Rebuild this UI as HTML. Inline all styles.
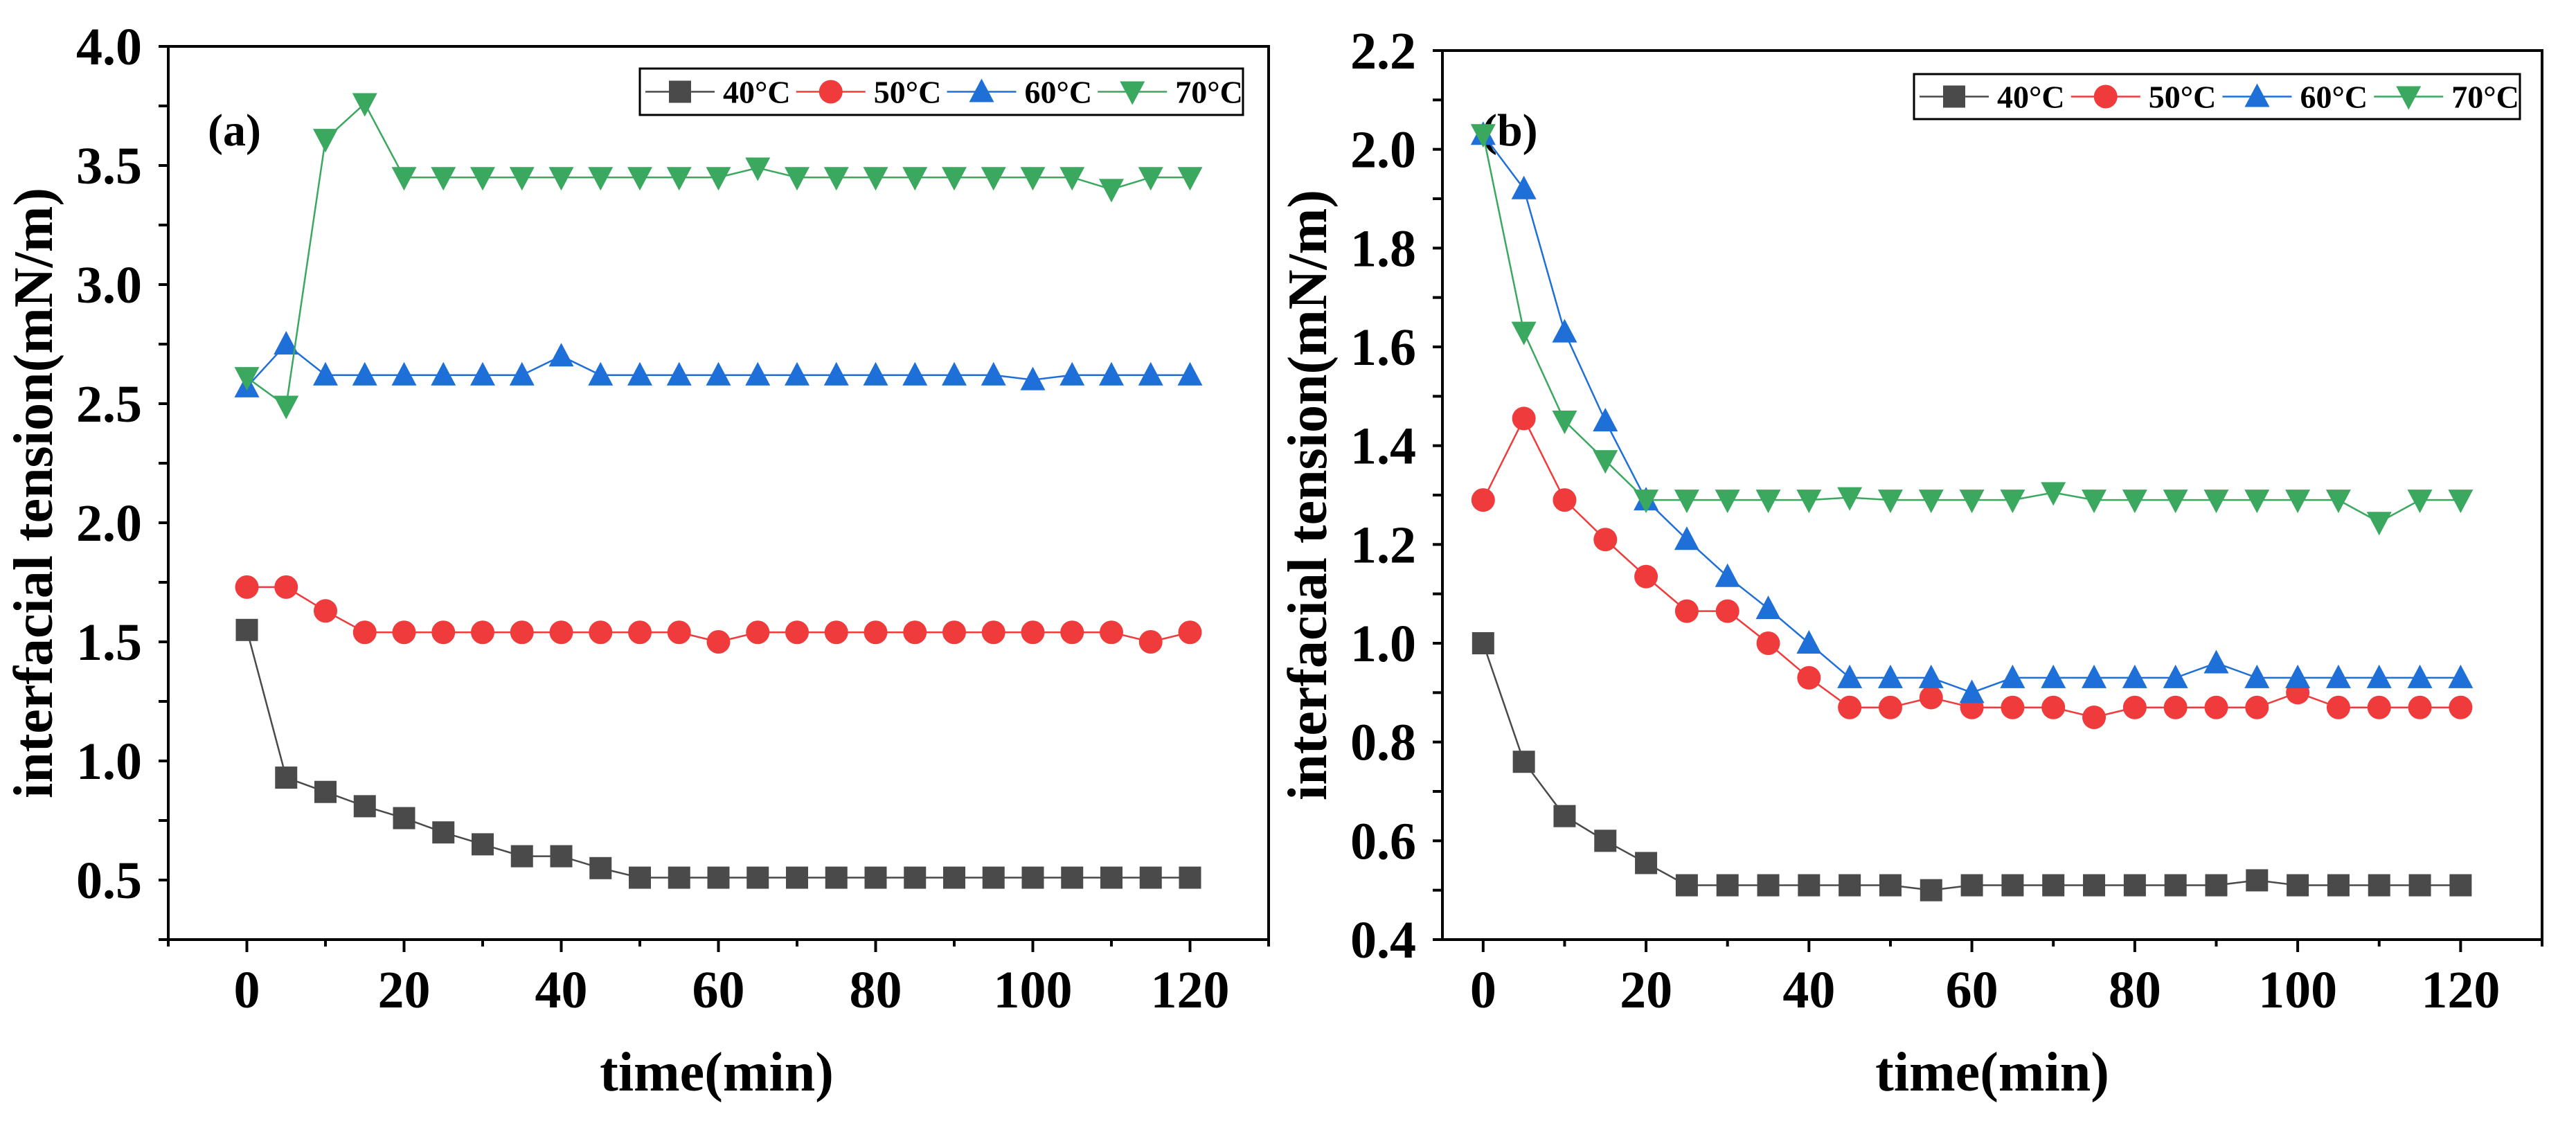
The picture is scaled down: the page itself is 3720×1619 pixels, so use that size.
<!DOCTYPE html>
<html><head><meta charset="utf-8"><style>
html,body{margin:0;padding:0;background:#fff}
svg{display:block}
text{font-family:"Liberation Serif",serif;font-weight:bold;fill:#000}
</style></head><body>
<svg id="chart" width="3720" height="1619" viewBox="0 0 3720 1619" xmlns="http://www.w3.org/2000/svg"></svg>
<script>
const times = [0,5,10,15,20,25,30,35,40,45,50,55,60,65,70,75,80,85,90,95,100,105,110,115,120];
const seriesNames = ["40°C","50°C","60°C","70°C"];
const a40 = [1.55,0.93,0.87,0.81,0.76,0.70,0.65,0.60,0.60,0.55,0.51,0.51,0.51,0.51,0.51,0.51,0.51,0.51,0.51,0.51,0.51,0.51,0.51,0.51,0.51];
const a50 = [1.73,1.73,1.63,1.54,1.54,1.54,1.54,1.54,1.54,1.54,1.54,1.54,1.50,1.54,1.54,1.54,1.54,1.54,1.54,1.54,1.54,1.54,1.54,1.50,1.54];
const a60 = [2.57,2.75,2.62,2.62,2.62,2.62,2.62,2.62,2.70,2.62,2.62,2.62,2.62,2.62,2.62,2.62,2.62,2.62,2.62,2.62,2.60,2.62,2.62,2.62,2.62];
const a70 = [2.61,2.49,3.61,3.76,3.45,3.45,3.45,3.45,3.45,3.45,3.45,3.45,3.45,3.49,3.45,3.45,3.45,3.45,3.45,3.45,3.45,3.45,3.40,3.45,3.45];
const b40 = [1.00,0.76,0.65,0.60,0.555,0.51,0.51,0.51,0.51,0.51,0.51,0.50,0.51,0.51,0.51,0.51,0.51,0.51,0.51,0.52,0.51,0.51,0.51,0.51,0.51];
const b50 = [1.29,1.455,1.29,1.21,1.135,1.065,1.065,1.00,0.93,0.87,0.87,0.89,0.87,0.87,0.87,0.85,0.87,0.87,0.87,0.87,0.90,0.87,0.87,0.87,0.87];
const b60 = [2.03,1.92,1.63,1.45,1.29,1.21,1.135,1.07,1.00,0.93,0.93,0.93,0.90,0.93,0.93,0.93,0.93,0.93,0.96,0.93,0.93,0.93,0.93,0.93,0.93];
const b70 = [2.03,1.63,1.45,1.37,1.29,1.29,1.29,1.29,1.29,1.295,1.29,1.29,1.29,1.29,1.305,1.29,1.29,1.29,1.29,1.29,1.29,1.29,1.245,1.29,1.29];
const xTicks = [0,20,40,60,80,100,120];
const aYTicks = ["0.5","1.0","1.5","2.0","2.5","3.0","3.5","4.0"];
const bYTicks = ["0.4","0.6","0.8","1.0","1.2","1.4","1.6","1.8","2.0","2.2"];

const colors = ["#4a4a4a","#ef3b3b","#1f6fd8","#3aa85e"];
const NS = "http://www.w3.org/2000/svg";
const FONT = '"Liberation Serif", serif';
const svg = document.getElementById('chart');
function mk(tag, attrs, parent){const e=document.createElementNS(NS,tag);for(const k in attrs)e.setAttribute(k,attrs[k]);if(tag==='text'){e.setAttribute('font-family',FONT);e.setAttribute('font-weight','bold');}(parent||svg).appendChild(e);return e;}

function marker(g, kind, x, y, c){
  const s=16; let e;
  if(kind===0) e=mk('rect',{x:x-s,y:y-s,width:2*s,height:2*s,fill:c},g);
  else if(kind===1) e=mk('circle',{cx:x,cy:y,r:s+1,fill:c},g);
  else if(kind===2) e=mk('polygon',{points:`${x},${y-s-3} ${x-s-2},${y+s-1} ${x+s+2},${y+s-1}`,fill:c},g);
  else e=mk('polygon',{points:`${x},${y+s+3} ${x-s-2},${y-s+1} ${x+s+2},${y-s+1}`,fill:c},g);
  return e;
}

function panel(cfg){
  const {L,R,T,B,xmin,xmax,ymin,ymax,yTicks,yMinorStep,data,label,legend,yTitleX,xTitleX,name}=cfg;
  const g=mk('g',{});
  
  
  const sx=v=>L+(v-xmin)/(xmax-xmin)*(R-L);
  const sy=v=>B-(v-ymin)/(ymax-ymin)*(B-T);
  const frame=mk('rect',{x:L,y:T,width:R-L,height:B-T,fill:'none',stroke:'#000','stroke-width':4},g);
  
  
  for(let v=Math.ceil(xmin/10)*10; v<=xmax; v+=10){
    const major = v%20===0;
    mk('line',{x1:sx(v),x2:sx(v),y1:B,y2:B+(major?18:10),stroke:'#000','stroke-width':4},g);
  }
  xTicks.forEach(v=>{
    const t=mk('text',{x:sx(v),y:1455,'text-anchor':'middle','font-size':76},g);
    t.textContent=v;
    
    
  });
  for(let v=ymin; v<=ymax+1e-9; v+=yMinorStep){
    mk('line',{x1:L,x2:L-14,y1:sy(v),y2:sy(v),stroke:'#000','stroke-width':4},g);
  }
  yTicks.forEach(s=>{
    const v=parseFloat(s);
    const t=mk('text',{x:L-38,y:sy(v)+26,'text-anchor':'end','font-size':76},g);
    t.textContent=s;
    
    
  });
  const yt=mk('text',{x:yTitleX,y:(T+B)/2,'text-anchor':'middle','font-size':80,transform:`rotate(-90 ${yTitleX} ${(T+B)/2})`},g);
  yt.textContent='interfacial tension(mN/m)';
  
  
  const xt=mk('text',{x:xTitleX,y:1575,'text-anchor':'middle','font-size':80},g);
  xt.textContent='time(min)';
  
  
  const pl=mk('text',{x:label[0],y:label[1],'font-size':66},g);
  pl.textContent=label[2];
  
  
  data.forEach((vals,i)=>{
    const sg=mk('g',{},g);
    
    
    const pts=vals.map((v,j)=>sx(times[j])+','+sy(v)).join(' ');
    mk('polyline',{points:pts,fill:'none',stroke:colors[i],'stroke-width':2.5},sg);
    vals.forEach((v,j)=>{
      const m=marker(sg,i,sx(times[j]),sy(v),colors[i]);
      
      
    });
  });
  const [lx1,ly1,lx2,ly2]=legend;
  const lg=mk('g',{},g);
  
  
  mk('rect',{x:lx1,y:ly1,width:lx2-lx1,height:ly2-ly1,fill:'#fff',stroke:'#000','stroke-width':3},lg);
  const w=(lx2-lx1)/4, cy=(ly1+ly2)/2;
  seriesNames.forEach((n,i)=>{
    const x0=lx1+8+i*w;
    const e=mk('g',{},lg);
    
    
    mk('line',{x1:x0,x2:x0+100,y1:cy,y2:cy,stroke:colors[i],'stroke-width':2.5},e);
    marker(e,i,x0+50,cy,colors[i]);
    const t=mk('text',{x:x0+112,y:cy+16,'font-size':46},e);
    t.textContent=n;
  });
}

panel({name:'panel-a',L:243,R:1832,T:67,B:1357,xmin:-10,xmax:130,ymin:0.25,ymax:4.0,
  yTicks:aYTicks,yMinorStep:0.25,data:[a40,a50,a60,a70],label:[300,210,'(a)'],
  legend:[924,99,1795,166],yTitleX:75,xTitleX:1035});
panel({name:'panel-b',L:2083,R:3671,T:73,B:1357,xmin:-5,xmax:130,ymin:0.4,ymax:2.2,
  yTicks:bYTicks,yMinorStep:0.1,data:[b40,b50,b60,b70],label:[2140,210,'(b)'],
  legend:[2764,107,3639,172],yTitleX:1915,xTitleX:2877});
</script>
</body></html>
